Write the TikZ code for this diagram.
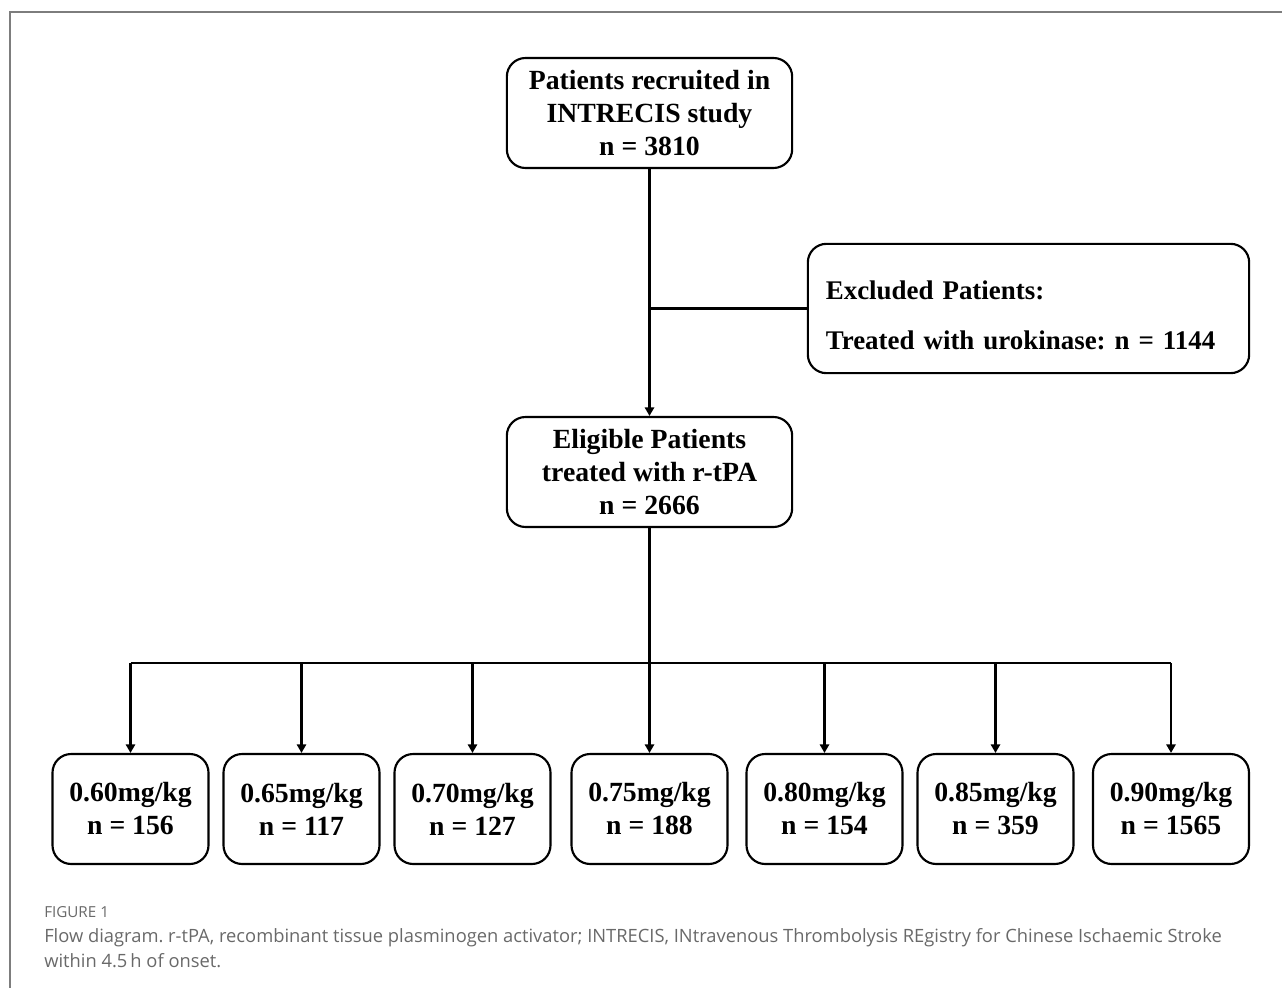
\documentclass[tikz,border=0pt]{standalone}
\usepackage{fontspec}
\setmainfont{Liberation Serif}
\newfontfamily\capfont{Open Sans}
\usetikzlibrary{positioning, arrows.meta}
\definecolor{mframe}{RGB}{125,125,125}
\definecolor{mcaption}{RGB}{105,105,105}
\frenchspacing

\begin{document}
\begin{tikzpicture}[x=0.75pt, y=-0.75pt,
  box/.style={draw, line width=1.6pt, rounded corners=14pt, align=center,
    minimum width=117pt, minimum height=82.5pt, inner sep=2pt,
    font=\bfseries\fontsize{20.8}{24.75}\selectfont},
  line/.style={line width=1.6pt},
  arrow/.style={line, -{Triangle[length=6.5pt, width=7pt]}}]
  \useasboundingbox (0,0) rectangle (1282,988);
  % frame round the figure
  \draw[mframe, line width=1.4pt] (10,988) -- (10,12) -- (1282,12);

  \node[box, minimum width=214pt] (recruit) at (649.5,113) {Patients recruited in\\INTRECIS study\\n = 3810};
  \node[box, minimum width=214pt] (eligible) at (649.5,472) {Eligible Patients\\treated with r-tPA\\n = 2666};
  \node[box, minimum width=331pt, minimum height=97pt, text width=304pt, inner xsep=13.5pt, align=left,
    font=\bfseries\fontsize{20.2}{24.75}\selectfont] (excluded) at (1028.5,308.5)
    {\rule{0pt}{24pt}Excluded Patients:\\[12.5pt]Treated with urokinase: n = 1144};

  % dose groups
  \foreach \dose/\num/\xc [count=\i] in {0.60/156/130.5, 0.65/117/301.5, 0.70/127/472.5, 0.75/188/649.5,
      0.80/154/824.5, 0.85/359/995.5, 0.90/1565/1171}
    \node[box] (dose\i) at (\xc,809) {\dose mg/kg\\n = \num};

  \coordinate (split) at (recruit.south |- excluded.west);
  \coordinate (bar) at (649.5,663);
  \draw[arrow] (recruit) -- (eligible);
  \draw[line] (split) -- (excluded.west);
  \draw[line] (eligible) -- (bar);
  \draw[line] (dose1.north |- bar) -- (dose7.north |- bar);
  \foreach \i in {1,...,7}
    \draw[arrow] (dose\i.north |- bar) -- (dose\i.north);

  % caption
  \node[anchor=base west, inner sep=0pt, text=mcaption, font=\capfont\fontsize{11.4}{12}\selectfont] (figlabel) at (44,917) {FIGURE 1};
  \node[anchor=north west, inner sep=0pt, text=mcaption, align=left, font=\capfont\fontsize{13.75}{18.6}\selectfont] (caption) at (44,928)
    {Flow diagram. r-tPA, recombinant tissue plasminogen activator; INTRECIS, INtravenous Thrombolysis REgistry for Chinese Ischaemic Stroke\\within 4.5\,h of onset.};
\end{tikzpicture}
\end{document}
